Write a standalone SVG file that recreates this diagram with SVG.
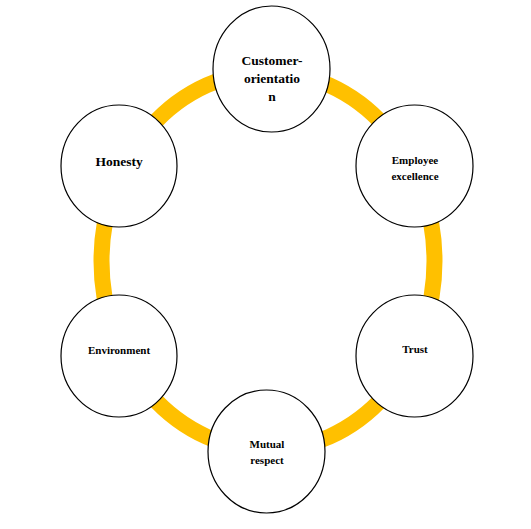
<svg xmlns="http://www.w3.org/2000/svg" width="531" height="529" viewBox="0 0 531 529">
<style>
.node{fill:#fff;stroke:#000;stroke-width:1.2}
.t{font-family:"Liberation Serif","Times New Roman",serif;font-weight:bold;fill:#000;text-anchor:middle}
.s{font-size:11px}
.l{font-size:13.5px}
</style>
<rect width="531" height="529" fill="#fff"/>
<g id="connectors">
<ellipse cx="268" cy="261" rx="166.5" ry="189" fill="none" stroke="#FFC000" stroke-width="16"/>
</g>
<g id="customer-orientation">
<ellipse class="node" cx="271.5" cy="69" rx="58.5" ry="63"/>
<text class="t l" x="272" y="65">Customer-</text>
<text class="t l" x="272" y="83">orientatio</text>
<text class="t l" x="272" y="101">n</text>
</g>
<g id="employee-excellence">
<ellipse class="node" cx="414.5" cy="166" rx="58.5" ry="61"/>
<text class="t s" x="415" y="164">Employee</text>
<text class="t s" x="415" y="180">excellence</text>
</g>
<g id="trust">
<ellipse class="node" cx="414.5" cy="356" rx="58.5" ry="61"/>
<text class="t s" x="415" y="353">Trust</text>
</g>
<g id="mutual-respect">
<ellipse class="node" cx="266.5" cy="451.5" rx="58.5" ry="61.5"/>
<text class="t s" x="267" y="448">Mutual</text>
<text class="t s" x="267" y="464">respect</text>
</g>
<g id="environment">
<ellipse class="node" cx="119" cy="356" rx="58" ry="61"/>
<text class="t s" x="119" y="354">Environment</text>
</g>
<g id="honesty">
<ellipse class="node" cx="119" cy="166" rx="58" ry="61"/>
<text class="t l" x="119" y="166">Honesty</text>
</g>
</svg>
